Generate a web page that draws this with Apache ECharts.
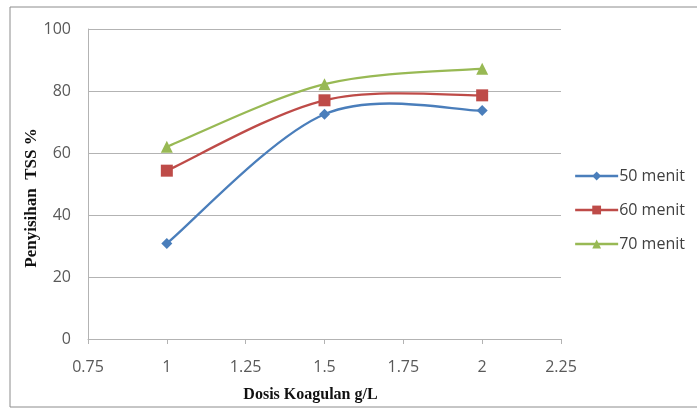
<!DOCTYPE html>
<html>
<head>
<meta charset="utf-8">
<script src="https://cdn.jsdelivr.net/npm/echarts@6/dist/echarts.min.js"></script>
<style>
  html, body { margin: 0; padding: 0; background: #fff; }
  #chart { width: 697px; height: 410px; }
</style>
</head>
<body>
<div id="chart"></div>
<script>
// Coagulant dose (g/L) and TSS removal (%) for each settling time
var doses = [1, 1.5, 2];
var tss50 = [30.8, 72.5, 73.7];
var tss60 = [54.3, 77.0, 78.6];
var tss70 = [62.0, 82.2, 87.2];
var seriesNames = ['50 menit', '60 menit', '70 menit'];
var xTicks = [0.75, 1, 1.25, 1.5, 1.75, 2, 2.25];

var colors = ['#4A7EBB', '#BE4B48', '#98B954'];
var symbols = ['diamond', 'rect', 'triangle'];
var symbolSizes = [11, 12, 12];
var allValues = [tss50, tss60, tss70];

function pairs(xs, ys) {
  return xs.map(function (x, i) { return [x, ys[i]]; });
}

// Smoothed line through the points (cubic Bezier, Catmull-Rom style tangents),
// positioned through the chart's own coordinate system.
function smoothCurve(values, color) {
  return function (params, api) {
    if (params.dataIndex !== 0) return null;
    var p = doses.map(function (x, i) { return api.coord([x, values[i]]); });
    var n = p.length;
    var k = 1 / 6;
    var d = 'M' + p[0][0] + ',' + p[0][1];
    for (var i = 0; i < n - 1; i++) {
      var a = p[Math.max(i - 1, 0)], b = p[i], c = p[i + 1], e = p[Math.min(i + 2, n - 1)];
      var c1x = b[0] + (c[0] - a[0]) * k, c1y = b[1] + (c[1] - a[1]) * k;
      var c2x = c[0] - (e[0] - b[0]) * k, c2y = c[1] - (e[1] - b[1]) * k;
      d += ' C' + c1x + ',' + c1y + ' ' + c2x + ',' + c2y + ' ' + c[0] + ',' + c[1];
    }
    return {
      type: 'path',
      shape: { pathData: d },
      style: { fill: 'none', stroke: color, lineWidth: 2.3 }
    };
  };
}

var chart = echarts.init(document.getElementById('chart'), null, { renderer: 'canvas' });

var labelFont = '"Open Sans", "DejaVu Sans", sans-serif';
var titleFont = '"Liberation Serif", "DejaVu Serif", serif';

var series = [];
allValues.forEach(function (vals, i) {
  series.push({
    name: 'curve-' + i,
    type: 'custom',
    data: pairs(doses, vals),
    encode: { x: 0, y: 1 },
    renderItem: smoothCurve(vals, colors[i]),
    silent: true,
    z: 2
  });
});
allValues.forEach(function (vals, i) {
  series.push({
    name: seriesNames[i],
    type: 'line',
    data: pairs(doses, vals),
    symbol: symbols[i],
    symbolSize: symbolSizes[i],
    itemStyle: { color: colors[i] },
    lineStyle: { color: colors[i], width: 0, opacity: 0 },
    z: 3
  });
});

chart.setOption({
  backgroundColor: '#ffffff',
  animation: false,
  graphic: [{
    type: 'rect',
    shape: { x: 10, y: 7, width: 700, height: 400 },
    style: { fill: 'none', stroke: '#8c8c8c', lineWidth: 1 },
    silent: true
  }],
  grid: { left: 88, top: 29, width: 473, height: 310, containLabel: false },
  legend: {
    orient: 'vertical',
    left: 569,
    top: 163,
    itemWidth: 43,
    itemHeight: 11,
    itemGap: 18,
    data: seriesNames.map(function (name, i) {
      return {
        name: name,
        itemStyle: { color: colors[i] },
        lineStyle: { color: colors[i], width: 2.3, opacity: 1 }
      };
    }),
    textStyle: { fontFamily: labelFont, fontSize: 16, color: '#404040', padding: [0, 0, 0, -4] }
  },
  xAxis: {
    type: 'value',
    min: 0.75,
    max: 2.25,
    interval: 0.25,
    name: 'Dosis Koagulan g/L',
    nameLocation: 'middle',
    nameGap: 48,
    nameMoveOverlap: false,
    nameTextStyle: { fontFamily: titleFont, fontWeight: 'bold', fontSize: 16, color: '#111111', padding: [0, 28, 0, 0] },
    axisLine: { show: true, onZero: false, lineStyle: { color: '#b3b3b3', width: 1 } },
    axisTick: { show: true, length: 5, lineStyle: { color: '#b3b3b3' } },
    axisLabel: {
      fontFamily: labelFont, fontSize: 16, color: '#595959', margin: 20,
      formatter: function (v) {
        var t = xTicks.filter(function (x) { return Math.abs(x - v) < 1e-9; });
        return t.length ? String(t[0]) : '';
      }
    },
    splitLine: { show: false }
  },
  yAxis: {
    type: 'value',
    min: 0,
    max: 100,
    interval: 20,
    name: 'Penyisihan  TSS %',
    nameLocation: 'middle',
    nameGap: 48,
    nameMoveOverlap: false,
    nameRotate: 90,
    nameTextStyle: { fontFamily: titleFont, fontWeight: 'bold', fontSize: 17, color: '#111111', padding: [0, 28, 0, 0] },
    axisLine: { show: true, lineStyle: { color: '#b3b3b3', width: 1 } },
    axisTick: { show: false },
    axisLabel: { fontFamily: labelFont, fontSize: 16, color: '#595959', margin: 17 },
    splitLine: { show: true, lineStyle: { color: '#b3b3b3', width: 1 } }
  },
  series: series
});
</script>
</body>
</html>
